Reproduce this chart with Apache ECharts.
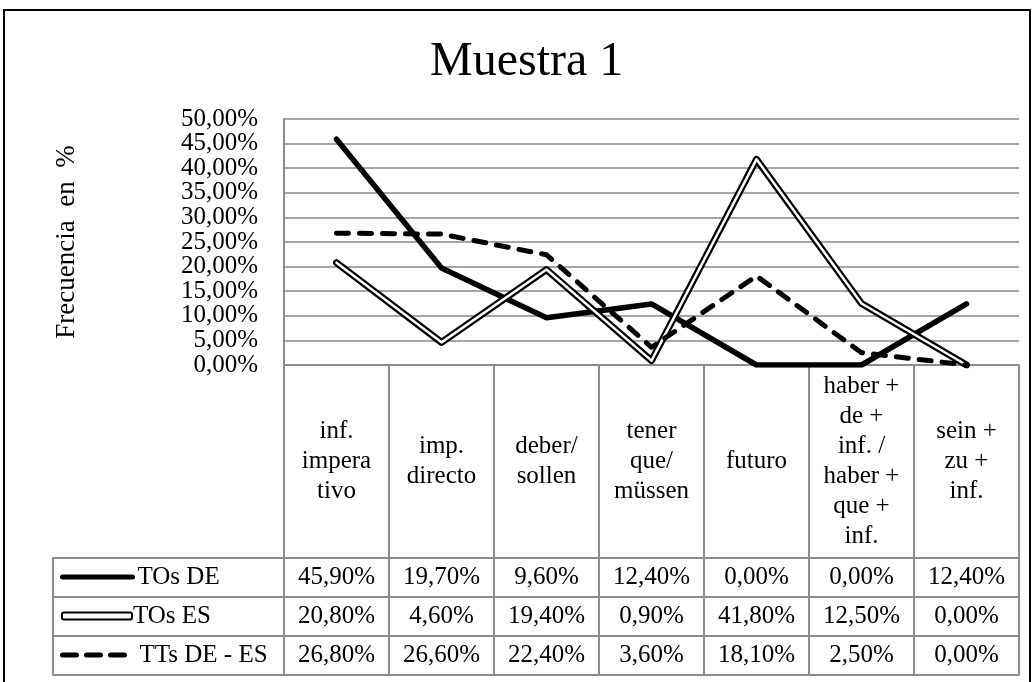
<!DOCTYPE html>
<html>
<head>
<meta charset="utf-8">
<script src="https://cdn.jsdelivr.net/npm/echarts@6/dist/echarts.min.js"></script>
<style>html,body{margin:0;padding:0;background:#fff;}#c{width:1036px;height:682px;}</style>
</head>
<body>
<div id="c"></div>
<script>
// ---- data ----
var categories = ['inf.\nimpera\ntivo', 'imp.\ndirecto', 'deber/\nsollen', 'tener\nque/\nmüssen', 'futuro', 'haber +\nde +\ninf. /\nhaber +\nque +\ninf.', 'sein +\nzu +\ninf.'];
var seriesNames = ['TOs DE', 'TOs ES', 'TTs DE - ES'];
var tosDE = [45.9, 19.7, 9.6, 12.4, 0.0, 0.0, 12.4];
var tosES = [20.8, 4.6, 19.4, 0.9, 41.8, 12.5, 0.0];
var ttsDEES = [26.8, 26.6, 22.4, 3.6, 18.1, 2.5, 0.0];
var yTicks = {min: 0, max: 50, interval: 5};
var titleText = 'Muestra 1';
var yAxisTitle = 'Frecuencia  en  %';

// ---- layout ----
var FONT = 'Liberation Serif';
var GRID_LEFT = 284, GRID_RIGHT = 17, PLOT_TOP = 119, PLOT_BOTTOM_Y = 365;
var CAT_H = 193, ROW_H = 39, TABLE_LEFT = 53;
var GRAY = '#8c8c8c';
var GRID_GRAY = '#a6a6a6';

function fmt(v) { return v.toFixed(2).replace('.', ',') + '%'; }
// Labels are split over two overlaid value axes so that neighbouring tick labels
// (which touch each other, as in the reference) are not hidden by overlap logic.
function isEvenStep(v) { return Math.round(v / yTicks.interval) % 2 === 0; }

var rows = [tosDE, tosES, ttsDEES];
var xAxes = [{
  type: 'category', data: categories, boundaryGap: true, position: 'bottom',
  axisLine: {show: true, onZero: false, lineStyle: {color: GRAY, width: 2}},
  axisTick: {show: true, inside: false, length: CAT_H, alignWithLabel: false, interval: 0, lineStyle: {color: GRAY, width: 2}},
  axisLabel: {interval: 0, margin: CAT_H / 2, verticalAlign: 'middle', align: 'center', color: '#000', fontFamily: FONT, fontSize: 25, lineHeight: 30}
}];
rows.forEach(function (r, i) {
  xAxes.push({
    type: 'category', data: r.map(fmt), boundaryGap: true, position: 'bottom', offset: CAT_H + i * ROW_H,
    axisLine: {show: true, onZero: false, lineStyle: {color: GRAY, width: 2}},
    axisTick: {show: true, inside: false, length: ROW_H, alignWithLabel: false, interval: 0, lineStyle: {color: GRAY, width: 2}},
    axisLabel: {interval: 0, margin: ROW_H / 2, verticalAlign: 'middle', align: 'center', color: '#000', fontFamily: FONT, fontSize: 25},
    splitLine: {show: false}
  });
});
xAxes.push({
  type: 'category', data: categories.map(function(){return '';}), boundaryGap: true, position: 'bottom', offset: CAT_H + 3 * ROW_H,
  axisLine: {show: true, onZero: false, lineStyle: {color: GRAY, width: 2}},
  axisTick: {show: false}, axisLabel: {show: false}
});

var legendTops = [0, 1, 2].map(function (i) { return PLOT_BOTTOM_Y + CAT_H + i * ROW_H + ROW_H / 2 - 13; });

var yLabelBase = {color: '#000', fontFamily: FONT, fontSize: 25, margin: 26, hideOverlap: false};

var option = {
  backgroundColor: '#fff',
  animation: false,
  title: {text: titleText, left: 430, top: 38, padding: 0, textStyle: {fontFamily: FONT, fontSize: 48, fontWeight: 'normal', color: '#000'}},
  grid: {left: GRID_LEFT, right: GRID_RIGHT, top: PLOT_TOP, bottom: 682 - PLOT_BOTTOM_Y, containLabel: false},
  legend: [
    {data: [{name: 'TOs DE'}], left: 60, top: legendTops[0], padding: 0, itemWidth: 70, itemHeight: 14, itemGap: 4,
     textStyle: {fontFamily: FONT, fontSize: 25, color: '#000', padding: [0, 0, 0, 0]}, selectedMode: false,
     lineStyle: {width: 5, color: '#000', cap: 'round'}, itemStyle: {opacity: 0}},
    {data: [{name: 'TOs ES', icon: 'roundRect', itemStyle: {color: '#fff', borderColor: '#000', borderWidth: 2}}], left: 61, top: legendTops[1], padding: 0, itemWidth: 70, itemHeight: 7,
     textStyle: {fontFamily: FONT, fontSize: 25, color: '#000', padding: [0, 0, 0, -4]}, selectedMode: false},
    {data: [{name: 'TTs DE - ES'}], left: 60, top: legendTops[2], padding: 0, itemWidth: 70, itemHeight: 14,
     textStyle: {fontFamily: FONT, fontSize: 25, color: '#000', padding: [0, 0, 0, 2]}, selectedMode: false,
     lineStyle: {width: 5, color: '#000', type: [14, 10], cap: 'round'}, itemStyle: {opacity: 0}}
  ],
  xAxis: xAxes,
  yAxis: [{
    type: 'value', min: yTicks.min, max: yTicks.max, interval: yTicks.interval, position: 'left',
    name: yAxisTitle, nameLocation: 'middle', nameGap: 204, nameRotate: 90,
    nameTextStyle: {fontFamily: FONT, fontSize: 27, color: '#000'},
    axisLine: {show: true, onZero: false, lineStyle: {color: GRAY, width: 2}},
    axisTick: {show: false},
    axisLabel: Object.assign({}, yLabelBase, {showMinLabel: true, showMaxLabel: true,
      formatter: function (v) { return isEvenStep(v) ? fmt(v) : ''; }}),
    splitLine: {show: true, lineStyle: {color: GRID_GRAY, width: 2}}
  }, {
    type: 'value', min: yTicks.min, max: yTicks.max, interval: yTicks.interval, position: 'left', offset: 0,
    axisLine: {show: false, onZero: false}, axisTick: {show: false}, splitLine: {show: false},
    axisLabel: Object.assign({}, yLabelBase, {showMinLabel: false, showMaxLabel: false,
      formatter: function (v) { return isEvenStep(v) ? '' : fmt(v); }})
  }],
  graphic: [
    {type: 'rect', shape: {x: 4, y: 10, width: 1026, height: 720}, style: {fill: 'none', stroke: '#000', lineWidth: 2}, silent: true},
    {type: 'polyline', shape: {points: [[GRID_LEFT, PLOT_BOTTOM_Y + CAT_H], [TABLE_LEFT, PLOT_BOTTOM_Y + CAT_H], [TABLE_LEFT, PLOT_BOTTOM_Y + CAT_H + 3 * ROW_H], [GRID_LEFT, PLOT_BOTTOM_Y + CAT_H + 3 * ROW_H]]}, style: {fill: 'none', stroke: GRAY, lineWidth: 2}, silent: true},
    {type: 'line', shape: {x1: TABLE_LEFT, y1: PLOT_BOTTOM_Y + CAT_H + ROW_H, x2: GRID_LEFT, y2: PLOT_BOTTOM_Y + CAT_H + ROW_H}, style: {stroke: GRAY, lineWidth: 2}, silent: true},
    {type: 'line', shape: {x1: TABLE_LEFT, y1: PLOT_BOTTOM_Y + CAT_H + 2 * ROW_H, x2: GRID_LEFT, y2: PLOT_BOTTOM_Y + CAT_H + 2 * ROW_H}, style: {stroke: GRAY, lineWidth: 2}, silent: true}
  ],
  series: [
    {name: 'TOs DE', type: 'line', data: tosDE, symbol: 'none', lineStyle: {color: '#000', width: 5.5, cap: 'round', join: 'round'}, itemStyle: {color: '#000'}},
    {name: 'TOs ES', type: 'line', data: tosES, symbol: 'none', lineStyle: {color: '#000', width: 7, cap: 'round', join: 'round'}, itemStyle: {color: '#000'}},
    {name: 'TOs ES inner', type: 'line', data: tosES, symbol: 'none', lineStyle: {color: '#fff', width: 2.5, cap: 'round', join: 'round'}, itemStyle: {color: '#fff'}},
    {name: 'TTs DE - ES', type: 'line', data: ttsDEES, symbol: 'none', lineStyle: {color: '#000', width: 5, type: [12, 11], cap: 'round', join: 'round'}, itemStyle: {color: '#000'}}
  ]
};

var chart = echarts.init(document.getElementById('c'), null, {renderer: 'canvas'});
chart.setOption(option);
</script>
</body>
</html>
